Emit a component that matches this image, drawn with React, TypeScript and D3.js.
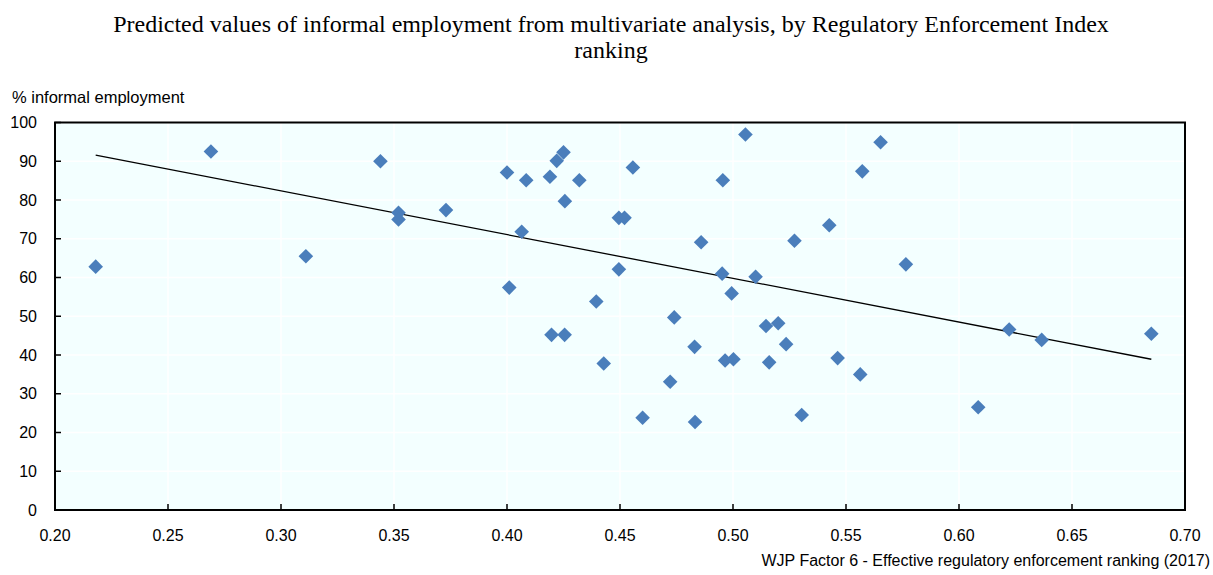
import React from 'react';
import { scaleLinear, line } from 'd3';

const rankX = [
  0.218, 0.269, 0.311, 0.344, 0.352, 0.352, 0.373, 0.4, 0.401, 0.4065, 0.4085,
  0.419, 0.422, 0.425, 0.4256, 0.432, 0.4197, 0.4255, 0.4395, 0.4428, 0.4495,
  0.4495, 0.452, 0.4557, 0.46, 0.4722, 0.474, 0.4832, 0.483, 0.4859, 0.4952,
  0.4955, 0.4965, 0.4994, 0.5002, 0.5055, 0.51, 0.5146, 0.516, 0.52, 0.5235,
  0.5272, 0.5304, 0.5426, 0.5463, 0.5563, 0.5572, 0.5653, 0.5765, 0.6085,
  0.6222, 0.6366, 0.6851,
];
const informalY = [
  62.8, 92.5, 65.5, 90.0, 76.7, 75.0, 77.4, 87.1, 57.4, 71.8, 85.1, 86.0, 90.1,
  92.3, 79.7, 85.1, 45.2, 45.2, 53.8, 37.8, 62.1, 75.4, 75.4, 88.4, 23.8, 33.1,
  49.7, 22.7, 42.1, 69.1, 61.0, 85.1, 38.6, 55.9, 38.9, 96.9, 60.2, 47.5, 38.1,
  48.2, 42.8, 69.5, 24.5, 73.5, 39.2, 35.0, 87.4, 94.9, 63.4, 26.5, 46.6, 43.9,
  45.5,
];
const trendX = [0.218, 0.6851];
const trendY = [91.6, 38.9];

const xTicks = [0.2, 0.25, 0.3, 0.35, 0.4, 0.45, 0.5, 0.55, 0.6, 0.65, 0.7];
const yTicks = [0, 10, 20, 30, 40, 50, 60, 70, 80, 90, 100];

const titleLines = [
  'Predicted values of informal employment from multivariate analysis, by Regulatory Enforcement Index',
  'ranking',
];
const yLabel = '% informal employment';
const xLabel = 'WJP Factor 6 - Effective regulatory enforcement ranking (2017)';

const W = 1213;
const H = 575;
const sans = '"Liberation Sans", Arial, sans-serif';
const serif = '"Liberation Serif", "Times New Roman", serif';

export default function App() {
  const left = 55;
  const right = 1185;
  const top = 122.5;
  const bottom = 510;

  const x = scaleLinear().domain([0.2, 0.7]).range([left, right]);
  const y = scaleLinear().domain([0, 100]).range([bottom, top]);

  const trendPath = line<number>()
    .x((d) => x(d))
    .y((_, i) => y(trendY[i]))(trendX);

  const r = 7.3;

  return (
    <svg
      width={W}
      height={H}
      style={{ position: 'absolute', left: 0, top: 0, display: 'block' }}
    >
      <rect width={W} height={H} fill="#ffffff" />
      {titleLines.map((t, i) => (
        <text
          key={t}
          x={611}
          y={31.5 + i * 26}
          textAnchor="middle"
          fontFamily={serif}
          fontSize={24}
          fill="#000"
        >
          {t}
        </text>
      ))}

      <rect
        x={left}
        y={top}
        width={right - left}
        height={bottom - top}
        fill="#f3ffff"
      />
      {/* grid */}
      {yTicks.map((t) => (
        <line
          key={`gy-${t}`}
          x1={left}
          x2={right}
          y1={y(t)}
          y2={y(t)}
          stroke="#ffffff"
          strokeWidth={1.5}
        />
      ))}
      {xTicks.map((t) => (
        <line
          key={`gx-${t}`}
          x1={x(t)}
          x2={x(t)}
          y1={top}
          y2={bottom}
          stroke="#ffffff"
          strokeWidth={1.5}
        />
      ))}

      {/* frame */}
      <rect
        x={left}
        y={top}
        width={right - left}
        height={bottom - top}
        fill="none"
        stroke="#000"
        strokeWidth={2}
      />

      {/* ticks */}
      {yTicks.map((t) => (
        <g key={`ty-${t}`}>
          <line x1={left} x2={left + 6} y1={y(t)} y2={y(t)} stroke="#000" strokeWidth={1.5} />
          <text
            x={37}
            y={y(t)}
            dy="0.35em"
            textAnchor="end"
            fontFamily={sans}
            fontSize={16}
            fill="#000"
          >
            {t}
          </text>
        </g>
      ))}
      {xTicks.map((t) => (
        <g key={`tx-${t}`}>
          <line x1={x(t)} x2={x(t)} y1={bottom} y2={bottom - 6} stroke="#000" strokeWidth={1.5} />
          <text
            x={x(t)}
            y={541}
            textAnchor="middle"
            fontFamily={sans}
            fontSize={16}
            fill="#000"
          >
            {t.toFixed(2)}
          </text>
        </g>
      ))}

      <text x={12} y={103} fontFamily={sans} fontSize={16.5} fill="#000">
        {yLabel}
      </text>
      <text
        x={1210}
        y={566}
        textAnchor="end"
        fontFamily={sans}
        fontSize={16}
        fill="#000"
      >
        {xLabel}
      </text>

      <path d={trendPath ?? ''} fill="none" stroke="#000" strokeWidth={1.3} />

      {rankX.map((v, i) => {
        const cx = x(v);
        const cy = y(informalY[i]);
        return (
          <path
            key={`pt-${i}`}
            d={`M${cx},${cy - r}L${cx + r},${cy}L${cx},${cy + r}L${cx - r},${cy}Z`}
            fill="#4a7ebb"
          />
        );
      })}
    </svg>
  );
}
